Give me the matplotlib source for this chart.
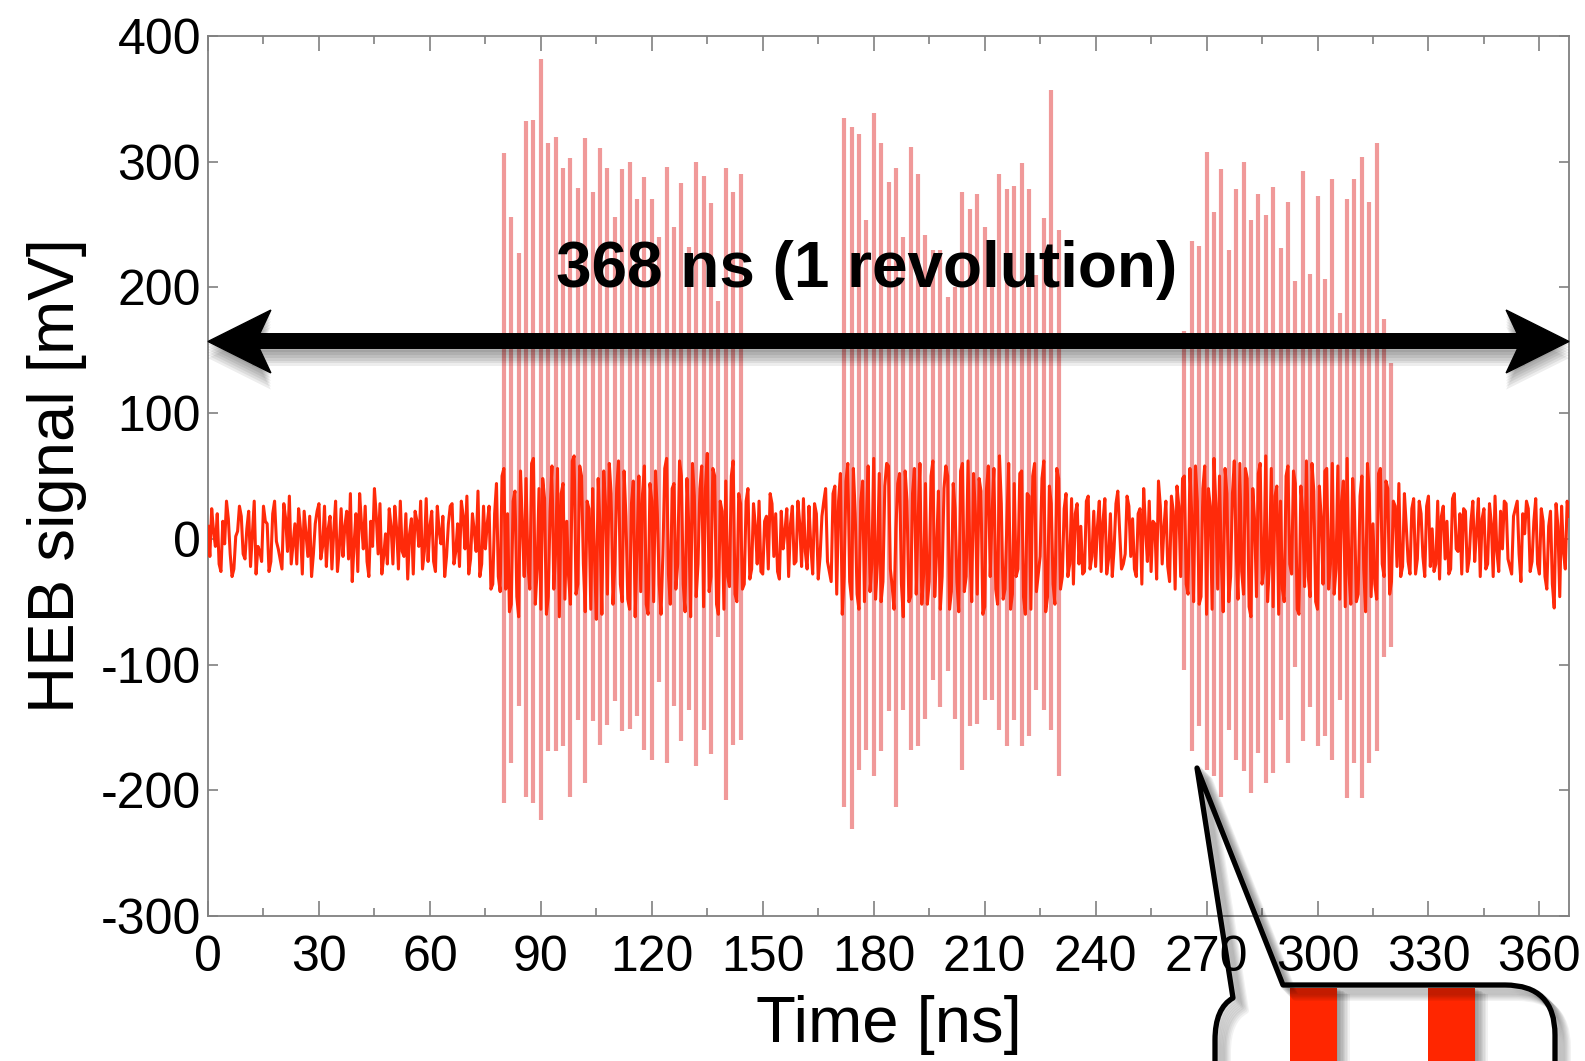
import numpy as np
import matplotlib.pyplot as plt
import matplotlib.patheffects as pe
from matplotlib.path import Path
from matplotlib.patches import PathPatch, Polygon, Rectangle
from matplotlib.transforms import Affine2D
from matplotlib.ticker import MultipleLocator

plt.rcParams['font.family'] = ['Liberation Sans', 'DejaVu Sans']
plt.rcParams['axes.unicode_minus'] = False

W, H = 1585, 1061

# baseline trace on whole ns, 0 .. 368 ns (mV)
baseline = [
    10, 24, -6, -20, 14, 30, -12, -24, 6, 18,
    -16, 22, 4, -28, -10, 26, 12, -18, 30, -8,
    -24, 16, 34, -4, -20, 8, 22, -14, -30, 12,
    28, -6, -22, 18, 6, -26, 24, 10, -16, -34,
    20, 36, -8, -18, 14, 40, -12, -28, 4, 24,
    -20, 8, 30, -14, -32, 16, 22, -6, -24, 32,
    10, -18, 26, -4, -30, 12, 28, -10, -22, 18,
    34, -16, 6, 38, -20, -8, 26, -36, 44, -42,
    56, 20, -52, 38, -62, 10, 48, -40, 64, -24,
    -56, 32, -46, 58, -10, -62, 44, 14, -52, 66,
    -36, 50, -58, 24, 40, -64, 8, 54, -44, 36,
    -20, 62, -50, 18, -56, 46, -8, -42, 58, -60,
    30, 54, -36, -12, 64, -52, 44, -20, 50, -58,
    10, 60, -46, 40, -54, 68, -30, 50, -60, 22,
    46, -38, 62, -50, 28, -36, 40, -24, 10, 30,
    -28, 18, 36, -14, -26, 22, 6, -30, 26, -18,
    12, 32, -24, -6, 28, -32, 18, 40, -26, 36,
    -44, 52, -30, 60, -48, 20, -56, 46, 12, -42,
    64, -20, -50, 42, 58, -38, 8, 52, -62, 30,
    -46, 56, 16, -52, 44, -34, 62, -10, -56, 40,
    50, -42, 24, -58, 60, -30, -12, 52, -44, 38,
    -54, 58, 20, -40, 66, -48, 12, -56, 44, -24,
    54, -60, 34, 50, -42, -14, 62, -46, 28, -52,
    48, -30, 36, -20, -36, 28, 10, -26, 34, -14,
    -22, 30, 14, -28, 20, -8, 38, -24, -12, 26,
    16, -30, 24, 40, -18, -26, 12, 46, -20, 30,
    -34, 22, 42, -30, 50, -44, 18, 58, -52, 40,
    -60, 26, 64, -40, -18, 56, -50, 36, -10, 60,
    -44, 48, -62, 14, 52, -36, 66, -20, -54, 42,
    30, -50, 58, -28, 44, -60, 20, 62, -46, 38,
    -56, 16, 54, -40, 60, -24, -48, 46, 64, -52,
    22, -44, 50, -58, 36, 12, -48, 56, -30, 40,
    -34, 26, 44, -22, 10, -28, 32, -16, 20, -30,
    34, 8, -20, -32, 26, 14, -24, 36, -10, -28,
    22, -16, 30, 6, -30, 24, -20, 12, 34, -26,
    -8, 28, -22, 18, 30, -34, 4, 24, -18, 32,
    -28, 14, -40, 22, -55, 10, 26, -24, 18,
]
# samples in between, 0.5 .. 367.5 ns (mV)
baseline_mid = [
    -14, 6, 20, -26, -4, 16, -30, 2, 26, -12,
    8, -22, 30, -6, -18, 14, -26, 20, -2, -16,
    28, -10, -20, 12, 24, -28, 4, 18, -12, 22,
    -16, 26, 8, -24, 30, -8, -14, 22, 36, -4,
    -26, 12, 26, -30, -6, 18, 28, -14, -20, 10,
    26, -24, -10, 20, 4, -28, 14, 30, -10, -18,
    22, -26, 6, 18, -14, 26, -20, 12, 30, -8,
    -28, 20, -10, -30, 26, 12, -40, 20, -30, 50,
    -40, -58, 30, -46, 54, -30, -20, 60, -52, 40,
    48, -60, 22, -40, 56, 36, -48, -30, 62, -44,
    58, -20, 30, -56, -14, 48, -60, 26, 60, -52,
    40, -36, 54, -48, 28, -62, 50, 36, -52, 44,
    -50, 20, -60, 56, -28, 40, -40, 62, -36, 48,
    -62, 34, -20, 58, 40, -42, 56, -52, 30, -56,
    -30, 50, -44, 36, -40, 30, -32, 28, -20, -26,
    14, -24, 28, 20, -32, -8, 24, 12, -20, 30,
    -22, -10, 26, -28, 20, -14, 30, -18, -34, 42,
    30, -60, 46, -34, 56, -44, 30, -50, 58, -20,
    -48, 52, -34, 60, -24, -56, 44, -36, 54, -50,
    36, -44, 60, -28, -52, 50, -46, 38, -30, 58,
    -56, 44, -34, 54, -42, 62, -50, 20, 48, -60,
    40, -30, 56, -52, 28, -40, 60, -44, -30, 52,
    -46, 36, -56, 60, -28, 48, -58, 42, -36, 56,
    -40, 24, -30, 32, 20, -20, -28, 30, -24, 22,
    10, -26, 32, -16, -30, 28, 6, -20, 34, -14,
    -24, 20, -36, 8, 30, 14, -32, 26, 10, -22,
    34, -40, 26, 48, -36, 56, -50, 30, -46, 58,
    40, -56, 28, 50, -58, 36, -30, 62, -48, -26,
    56, -54, 40, -46, 60, -24, -50, 56, 34, -60,
    -40, 50, -20, 54, -56, 42, -38, -30, 60, -50,
    42, -36, 56, -20, -44, 58, 30, -54, -28, 48,
    -50, 34, -24, 60, -46, -36, 52, -20, 46, -44,
    30, -22, -30, 36, -18, 24, -28, 30, -14, 26,
    -22, -26, 30, 18, -16, -28, 32, -8, 20, 24,
    -26, 14, -18, 32, 16, -24, 28, -30, -10, 22,
    30, -16, -28, 24, -12, 20, 30, -26, 14, -20,
    24, -30, 10, -36, 28, -46, -10, 30,
]

# bunch trains: arrival time (ns), positive peak and negative dip (mV)
train1_t = [80, 82, 84, 86, 88, 90, 92, 94, 96, 98, 100, 102, 104, 106, 108, 110,
            112, 114, 116, 118, 120, 122, 124, 126, 128, 130, 132, 134, 136, 138,
            140, 142, 144]
train1_hi = [307, 256, 227, 332, 333, 382, 315, 320, 295, 303, 279, 319, 276, 311,
             295, 256, 294, 300, 270, 288, 270, 240, 296, 248, 283, 232, 300, 289,
             267, 189, 295, 276, 290]
train1_lo = [-210, -178, -133, -205, -210, -224, -169, -169, -165, -205, -144, -194,
             -145, -164, -148, -129, -153, -151, -141, -168, -176, -114, -178, -133,
             -161, -136, -181, -152, -171, -78, -208, -164, -160]

train2_t = [172, 174, 176, 178, 180, 182, 184, 186, 188, 190, 192, 194, 196, 198, 200,
            202, 204, 206, 208, 210, 212, 214, 216, 218, 220, 222, 224, 226, 228, 230]
train2_hi = [335, 328, 322, 254, 339, 315, 284, 295, 240, 312, 290, 242, 230, 230, 192,
             200, 276, 262, 274, 248, 215, 290, 278, 281, 299, 278, 210, 255, 357, 246]
train2_lo = [-213, -231, -184, -168, -189, -169, -137, -213, -136, -168, -165, -143,
             -112, -134, -105, -143, -184, -149, -147, -128, -128, -152, -165, -144,
             -165, -157, -120, -136, -152, -189]

train3_t = [264, 266, 268, 270, 272, 274, 276, 278, 280, 282, 284, 286, 288, 290, 292,
            294, 296, 298, 300, 302, 304, 306, 308, 310, 312, 314, 316, 318, 320]
train3_hi = [165, 237, 233, 308, 260, 294, 230, 278, 300, 254, 274, 258, 280, 231, 268,
             205, 293, 211, 273, 207, 286, 180, 270, 286, 304, 268, 315, 175, 140]
train3_lo = [-104, -169, -149, -184, -189, -205, -152, -176, -185, -202, -170, -194,
             -186, -144, -178, -102, -161, -134, -165, -157, -176, -128, -206, -178,
             -206, -178, -169, -94, -86]

x_ticks = [0, 30, 60, 90, 120, 150, 180, 210, 240, 270, 300, 330, 360]
y_ticks = [-300, -200, -100, 0, 100, 200, 300, 400]

# merge the whole-ns and half-ns samples into one trace
t_whole = np.arange(len(baseline), dtype=float)
t_half = np.arange(len(baseline_mid)) + 0.5
t_sig = np.concatenate([t_whole, t_half])
v_sig = np.concatenate([baseline, baseline_mid])
order = np.argsort(t_sig)
t_sig, v_sig = t_sig[order], v_sig[order]

fig = plt.figure(figsize=(W / 100, H / 100), dpi=100)
ax = fig.add_axes([208 / W, 1 - 916 / H, 1361 / W, 880 / H])

for tt, hi, lo in [(train1_t, train1_hi, train1_lo),
                   (train2_t, train2_hi, train2_lo),
                   (train3_t, train3_hi, train3_lo)]:
    ax.vlines(tt, lo, hi, color='#e23434', lw=3.0, alpha=0.5, zorder=2)

ax.plot(t_sig, v_sig, color='#ff2a0a', lw=2.2, zorder=3)

ax.set_xlim(0, 368)
ax.set_ylim(-300, 400)
ax.set_xticks(x_ticks)
ax.set_yticks(y_ticks)
ax.xaxis.set_minor_locator(MultipleLocator(15))
ax.tick_params(which='both', direction='in', top=True, right=True,
               color='#808080', labelsize=36, width=1.2)
ax.tick_params(axis='x', which='major', length=11, pad=14)
ax.tick_params(axis='x', which='minor', length=6)
ax.tick_params(axis='y', which='major', length=7, pad=5)
for s in ax.spines.values():
    s.set_color('#808080')
    s.set_linewidth(1.3)

ax.set_xlabel('Time [ns]', fontsize=47, labelpad=10)
ax.set_ylabel('HEB signal [mV]', fontsize=47, labelpad=10)

# double arrow spanning one revolution, with a soft drop shadow
shadow = [pe.SimpleLineShadow(offset=(0, -k), shadow_color='k', alpha=0.07, linewidth=11.5)
          for k in range(2, 14, 2)] + [pe.Normal()]
ax.plot([12, 356], [157, 157], color='k', lw=11.5, solid_capstyle='butt',
        clip_on=False, zorder=5, path_effects=shadow)
head_shadow = [pe.SimplePatchShadow(offset=(0, -k), shadow_rgbFace='k', alpha=0.07)
               for k in range(2, 14, 2)] + [pe.Normal()]
for tip, d in [(0, 1), (368, -1)]:
    head = Polygon([(tip, 157), (tip + 17 * d, 182), (tip + 13 * d, 157),
                    (tip + 17 * d, 132)], closed=True, fc='k', ec='k', lw=1,
                   clip_on=False, zorder=6, path_effects=head_shadow)
    ax.add_patch(head)

ax.text(178, 200, '368 ns (1 revolution)', fontsize=46, fontweight='bold',
        ha='center', va='baseline', zorder=7)

# zoom-in callout below the third train
px = Affine2D().scale(1 / W, -1 / H).translate(0, 1) + fig.transFigure
bubble = Path(
    [(1215, 1080), (1215, 1040), (1215, 1008), (1233, 998), (1197, 768),
     (1283, 985), (1505, 985), (1555, 985), (1555, 1035), (1555, 1080)],
    [Path.MOVETO, Path.LINETO, Path.CURVE3, Path.CURVE3, Path.LINETO,
     Path.LINETO, Path.LINETO, Path.CURVE3, Path.CURVE3, Path.LINETO])
line_soft = [pe.Stroke(offset=(k, -k), linewidth=5, foreground='k', alpha=0.05)
             for k in range(1, 10)] + [pe.Normal()]
fig.add_artist(PathPatch(bubble, fc='none', ec='k', lw=3.8, joinstyle='round',
                         transform=px, path_effects=line_soft, zorder=10))
bar_soft = [pe.SimplePatchShadow(offset=(k, -k / 2), shadow_rgbFace='k', alpha=0.05)
            for k in range(1, 10)] + [pe.Normal()]
for x0 in (1290, 1428):
    fig.add_artist(Rectangle((x0, 988), 47, 100, fc='#ff2600', ec='none',
                             transform=px, path_effects=bar_soft, zorder=9))

fig.savefig('out.png', dpi=100)
